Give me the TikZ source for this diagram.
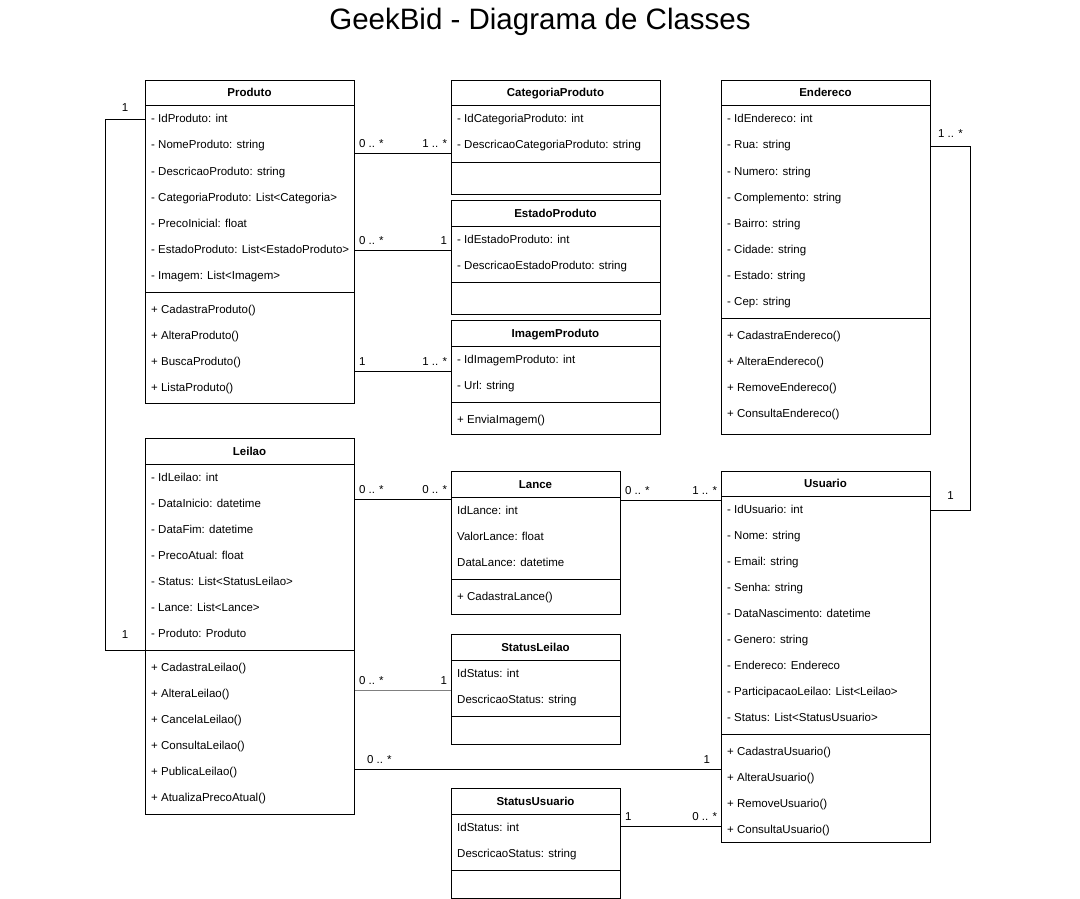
\documentclass[tikz,border=0pt]{standalone}
\usepackage{fontspec}
\setmainfont{Liberation Sans}
\definecolor{edgegray}{HTML}{808080}

\begin{document}
\begin{tikzpicture}[x=1pt,y=-1pt,
    classbox/.style={draw,line width=1pt,fill=white,anchor=north west,inner sep=0pt},
    head/.style={font=\fontsize{11.5}{13}\selectfont\bfseries,inner sep=0pt,text height=9.5pt,text depth=1.5pt},
    row/.style={font=\fontsize{11.5}{13}\selectfont,anchor=west,inner sep=0pt,text height=9.5pt,text depth=1.5pt},
    edge/.style={line width=1pt},
    mult/.style={font=\fontsize{11.5}{13}\selectfont,inner xsep=3.5pt,inner ysep=5pt}]
                \useasboundingbox (0,0) rectangle (1080,899);
                \node[font=\fontsize{29.5}{32}\selectfont,anchor=base,inner sep=0pt] (title) at (540,30) {GeekBid - Diagrama de Classes};

                % Produto
                \node[classbox,minimum width=209pt,minimum height=323pt] (produto) at (145,80) {};
                \draw[edge] (produto.west |- 0,106) -- (produto.east |- 0,106);
                \draw[edge] (produto.west |- 0,292) -- (produto.east |- 0,292);
                \node[head] (produto-name) at (249.5,93) {Produto};
                \begin{scope}
                \clip (145,80) rectangle (352,403);
                \foreach \t [count=\i] in {- IdProduto: int, - NomeProduto: string, - DescricaoProduto: string,
                    - CategoriaProduto: List<Categoria>, - PrecoInicial: float,
                    - EstadoProduto: List<EstadoProduto>, - Imagem: List<Imagem>}
                    \node[row] (produto-a\i) at (151,{119+26*(\i-1)}) {\t};
                \end{scope}
                \foreach \t [count=\i] in {+ CadastraProduto(), + AlteraProduto(), + BuscaProduto(), + ListaProduto()}
                    \node[row] (produto-m\i) at (151,{309+26*(\i-1)}) {\t};

                % CategoriaProduto
                \node[classbox,minimum width=209pt,minimum height=114pt] (categoria) at (451,80) {};
                \draw[edge] (categoria.west |- 0,106) -- (categoria.east |- 0,106);
                \draw[edge] (categoria.west |- 0,162) -- (categoria.east |- 0,162);
                \node[head] (categoria-name) at (555.5,93) {CategoriaProduto};
                \foreach \t [count=\i] in {- IdCategoriaProduto: int, - DescricaoCategoriaProduto: string}
                    \node[row] (categoria-a\i) at (457,{119+26*(\i-1)}) {\t};

                % EstadoProduto
                \node[classbox,minimum width=209pt,minimum height=114pt] (estado) at (451,200) {};
                \draw[edge] (estado.west |- 0,226) -- (estado.east |- 0,226);
                \draw[edge] (estado.west |- 0,282) -- (estado.east |- 0,282);
                \node[head] (estado-name) at (555.5,213) {EstadoProduto};
                \foreach \t [count=\i] in {- IdEstadoProduto: int, - DescricaoEstadoProduto: string}
                    \node[row] (estado-a\i) at (457,{239+26*(\i-1)}) {\t};

                % ImagemProduto
                \node[classbox,minimum width=209pt,minimum height=114pt] (imagem) at (451,320) {};
                \draw[edge] (imagem.west |- 0,346) -- (imagem.east |- 0,346);
                \draw[edge] (imagem.west |- 0,402) -- (imagem.east |- 0,402);
                \node[head] (imagem-name) at (555.5,333) {ImagemProduto};
                \foreach \t [count=\i] in {- IdImagemProduto: int, - Url: string}
                    \node[row] (imagem-a\i) at (457,{359+26*(\i-1)}) {\t};
                \node[row] (imagem-m1) at (457,419) {+ EnviaImagem()};

                % Endereco
                \node[classbox,minimum width=209pt,minimum height=354pt] (endereco) at (721,80) {};
                \draw[edge] (endereco.west |- 0,106) -- (endereco.east |- 0,106);
                \draw[edge] (endereco.west |- 0,318) -- (endereco.east |- 0,318);
                \node[head] (endereco-name) at (825.5,93) {Endereco};
                \foreach \t [count=\i] in {- IdEndereco: int, - Rua: string, - Numero: string, - Complemento: string,
                    - Bairro: string, - Cidade: string, - Estado: string, - Cep: string}
                    \node[row] (endereco-a\i) at (727,{119+26*(\i-1)}) {\t};
                \foreach \t [count=\i] in {+ CadastraEndereco(), + AlteraEndereco(), + RemoveEndereco(), + ConsultaEndereco()}
                    \node[row] (endereco-m\i) at (727,{335+26*(\i-1)}) {\t};

                % Leilao
                \node[classbox,minimum width=209pt,minimum height=376pt] (leilao) at (145,438) {};
                \draw[edge] (leilao.west |- 0,464) -- (leilao.east |- 0,464);
                \draw[edge] (leilao.west |- 0,650) -- (leilao.east |- 0,650);
                \node[head] (leilao-name) at (249.5,451) {Leilao};
                \foreach \t [count=\i] in {- IdLeilao: int, - DataInicio: datetime, - DataFim: datetime, - PrecoAtual: float,
                    - Status: List<StatusLeilao>, - Lance: List<Lance>, - Produto: Produto}
                    \node[row] (leilao-a\i) at (151,{477+26*(\i-1)}) {\t};
                \foreach \t [count=\i] in {+ CadastraLeilao(), + AlteraLeilao(), + CancelaLeilao(), + ConsultaLeilao(),
                    + PublicaLeilao(), + AtualizaPrecoAtual()}
                    \node[row] (leilao-m\i) at (151,{667+26*(\i-1)}) {\t};

                % Lance
                \node[classbox,minimum width=169pt,minimum height=143pt] (lance) at (451,471) {};
                \draw[edge] (lance.west |- 0,497) -- (lance.east |- 0,497);
                \draw[edge] (lance.west |- 0,579) -- (lance.east |- 0,579);
                \node[head] (lance-name) at (535.5,484) {Lance};
                \foreach \t [count=\i] in {IdLance: int, ValorLance: float, DataLance: datetime}
                    \node[row] (lance-a\i) at (457,{510+26*(\i-1)}) {\t};
                \node[row] (lance-m1) at (457,596) {+ CadastraLance()};

                % StatusLeilao
                \node[classbox,minimum width=169pt,minimum height=110pt] (statusleilao) at (451,634) {};
                \draw[edge] (statusleilao.west |- 0,660) -- (statusleilao.east |- 0,660);
                \draw[edge] (statusleilao.west |- 0,716) -- (statusleilao.east |- 0,716);
                \node[head] (statusleilao-name) at (535.5,647) {StatusLeilao};
                \foreach \t [count=\i] in {IdStatus: int, DescricaoStatus: string}
                    \node[row] (statusleilao-a\i) at (457,{673+26*(\i-1)}) {\t};

                % StatusUsuario
                \node[classbox,minimum width=169pt,minimum height=110pt] (statususuario) at (451,788) {};
                \draw[edge] (statususuario.west |- 0,814) -- (statususuario.east |- 0,814);
                \draw[edge] (statususuario.west |- 0,870) -- (statususuario.east |- 0,870);
                \node[head] (statususuario-name) at (535.5,801) {StatusUsuario};
                \foreach \t [count=\i] in {IdStatus: int, DescricaoStatus: string}
                    \node[row] (statususuario-a\i) at (457,{827+26*(\i-1)}) {\t};

                % Usuario
                \node[classbox,minimum width=209pt,minimum height=371pt] (usuario) at (721,471) {};
                \draw[edge] (usuario.west |- 0,496) -- (usuario.east |- 0,496);
                \draw[edge] (usuario.west |- 0,734) -- (usuario.east |- 0,734);
                \node[head] (usuario-name) at (825.5,483.5) {Usuario};
                \foreach \t [count=\i] in {- IdUsuario: int, - Nome: string, - Email: string, - Senha: string,
                    - DataNascimento: datetime, - Genero: string, - Endereco: Endereco,
                    - ParticipacaoLeilao: List<Leilao>, - Status: List<StatusUsuario>}
                    \node[row] (usuario-a\i) at (727,{509+26*(\i-1)}) {\t};
                \foreach \t [count=\i] in {+ CadastraUsuario(), + AlteraUsuario(), + RemoveUsuario(), + ConsultaUsuario()}
                    \node[row] (usuario-m\i) at (727,{751+26*(\i-1)}) {\t};

                % associations
                \draw[edge] (produto.west |- 0,119.5) -- node[mult,above,yshift=2pt] (m-pl1) {1} (105,119.5)
                    |- node[mult,above,pos=0.75,yshift=6pt] (m-pl2) {1} (leilao.west |- 0,650);
                \draw[edge] (produto.east |- 0,153) -- node[mult,pos=0,above right] (m-pc1) {0 .. *}
                    node[mult,pos=1,above left] (m-pc2) {1 .. *} (categoria.west |- 0,153);
                \draw[edge] (produto.east |- 0,250) -- node[mult,pos=0,above right] (m-pe1) {0 .. *}
                    node[mult,pos=1,above left] (m-pe2) {1} (estado.west |- 0,250);
                \draw[edge] (produto.east |- 0,371) -- node[mult,pos=0,above right] (m-pi1) {1}
                    node[mult,pos=1,above left] (m-pi2) {1 .. *} (imagem.west |- 0,371);
                \draw[edge] (endereco.east |- 0,146) -- node[mult,above,yshift=3pt] (m-eu1) {1 .. *} (970,146)
                    |- node[mult,above,pos=0.75,yshift=5pt] (m-eu2) {1} (usuario.east |- 0,510);
                \draw[edge] (leilao.east |- 0,499) -- node[mult,pos=0,above right] (m-ll1) {0 .. *}
                    node[mult,pos=1,above left] (m-ll2) {0 .. *} (lance.west |- 0,499);
                \draw[edge] (lance.east |- 0,500) -- node[mult,pos=0,above right] (m-lu1) {0 .. *}
                    node[mult,pos=1,above left] (m-lu2) {1 .. *} (usuario.west |- 0,500);
                \draw[edge,edgegray] (leilao.east |- 0,690) -- node[mult,black,pos=0,above right] (m-ls1) {0 .. *}
                    node[mult,black,pos=1,above left] (m-ls2) {1} (statusleilao.west |- 0,690);
                \draw[edge] (leilao.east |- 0,769) -- node[mult,pos=0,above right,xshift=8pt] (m-lu3) {0 .. *}
                    node[mult,pos=1,above left,xshift=-7pt] (m-lu4) {1} (usuario.west |- 0,769);
                \draw[edge] (statususuario.east |- 0,826) -- node[mult,pos=0,above right] (m-su1) {1}
                    node[mult,pos=1,above left] (m-su2) {0 .. *} (usuario.west |- 0,826);
            \end{tikzpicture}
\end{document}
